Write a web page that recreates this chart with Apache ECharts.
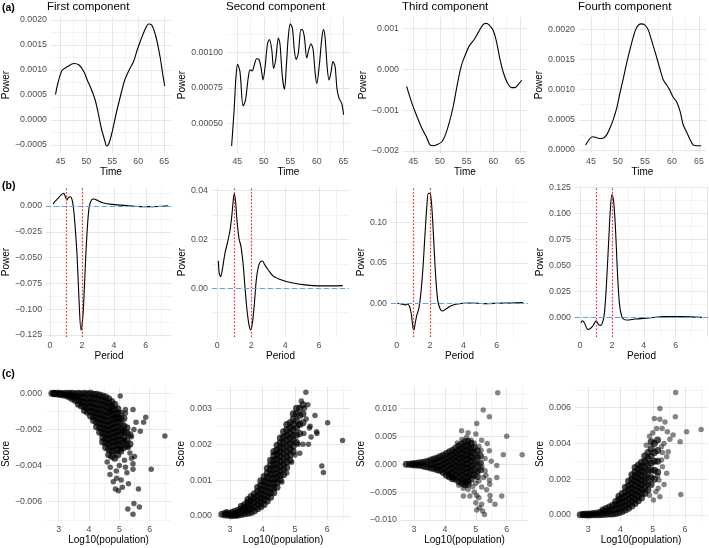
<!DOCTYPE html>
<html>
<head>
<meta charset="utf-8">
<script src="https://cdn.jsdelivr.net/npm/echarts@6/dist/echarts.min.js"></script>
<style>
html, body { margin: 0; padding: 0; background: #fff; }
#main { width: 709px; height: 548px; }
</style>
</head>
<body>
<div id="main"></div>
<script>
// ---- (a) component power over time: [time, power]
var firstTime = [[44.06,0.00051],[44.5,0.00073],[45.3,0.00099],[46.4,0.00107],[47.6,0.00113],[48.6,0.00110],[49.5,0.00097],[50.3,0.00077],[50.9,0.00063],[51.7,0.00040],[52.3,0.00013],[52.9,-0.00017],[53.6,-0.00043],[53.9,-0.00052],[54.3,-0.00048],[54.9,-0.00027],[55.75,0.00013],[56.7,0.00053],[57.4,0.00080],[58.25,0.00100],[59.1,0.00117],[59.8,0.00140],[60.6,0.00163],[61.4,0.00183],[62.0,0.00192],[62.6,0.00190],[63.4,0.00167],[64.2,0.00127],[64.7,0.00093],[65.1,0.00068]];
var secondTime = [[43.93,0.00034],[44.4,0.000594],[44.75,0.000829],[45.05,0.000915],[45.5,0.000864],[46.1,0.000622],[46.55,0.000664],[47.05,0.000817],[47.4,0.000876],[47.8,0.000869],[48.2,0.00091],[48.65,0.000955],[49.1,0.00095],[49.5,0.000887],[49.85,0.000805],[50.25,0.0009],[50.7,0.00106],[51.05,0.00109],[51.5,0.00102],[51.85,0.000887],[52.25,0.00095],[52.75,0.0011],[53.05,0.00106],[53.5,0.000829],[53.9,0.00074],[54.25,0.0009],[54.6,0.0011],[55.0,0.0012],[55.4,0.00117],[55.75,0.00102],[56.1,0.00095],[56.5,0.00099],[57.0,0.00116],[57.25,0.00116],[57.65,0.00111],[58.1,0.00096],[58.5,0.00102],[58.9,0.00106],[59.3,0.00102],[59.7,0.00085],[60.0,0.00078],[60.45,0.0009],[60.95,0.0011],[61.25,0.00116],[61.55,0.00111],[61.95,0.0009],[62.3,0.000805],[62.7,0.000864],[63.05,0.000934],[63.45,0.0009],[63.8,0.000746],[64.2,0.000676],[64.7,0.00064],[65.05,0.00056]];
var thirdTime = [[43.75,-0.00042],[44.69,-0.00081],[45.63,-0.00114],[46.56,-0.00143],[47.5,-0.00167],[48.13,-0.00185],[48.75,-0.00187],[49.5,-0.00184],[50.31,-0.00178],[50.94,-0.00163],[51.75,-0.0013],[52.5,-0.0009],[53.25,-0.00037],[54.0,0.00008],[54.69,0.00033],[55.5,0.00057],[56.38,0.00072],[57.19,0.0009],[58.0,0.00108],[58.63,0.00112],[59.25,0.00108],[60.0,0.00094],[60.63,0.00065],[61.25,0.00024],[61.88,-0.00008],[62.63,-0.00033],[63.44,-0.00045],[64.06,-0.00045],[64.69,-0.00037],[65.31,-0.00027]];
var fourthTime = [[44.0,0.000083],[44.6,0.000166],[45.25,0.00022],[45.85,0.00021],[46.5,0.00019],[47.3,0.0002],[47.9,0.00025],[48.5,0.00036],[49.1,0.0005],[49.75,0.00069],[50.35,0.00094],[51.0,0.00119],[51.6,0.00144],[52.2,0.00166],[52.85,0.00188],[53.45,0.00203],[54.25,0.00209],[55.0,0.00207],[55.6,0.00199],[56.2,0.00182],[56.95,0.0016],[57.75,0.00135],[58.4,0.00116],[59.0,0.00108],[59.6,0.00099],[60.25,0.00087],[60.85,0.0008],[61.5,0.00064],[62.1,0.00041],[62.7,0.0003],[63.35,0.00017],[63.95,0.00008],[64.6,0.00007],[65.4,0.00007]];

// ---- (b) power by period: [period, power]
var firstPeriod = [[0.2,0.0019],[0.3,0.0042],[0.5,0.0074],[0.7,0.0107],[0.86,0.0123],[0.96,0.0090],[1.06,0.0058],[1.16,0.0084],[1.26,0.0090],[1.36,0.0074],[1.46,-0.0006],[1.56,-0.0168],[1.7,-0.0491],[1.82,-0.0911],[1.94,-0.1202],[2.02,-0.1137],[2.1,-0.0975],[2.24,-0.0491],[2.36,-0.0168],[2.46,-0.0006],[2.6,0.0058],[2.74,0.0068],[3.0,0.0052],[3.3,0.0032],[3.9,0.0016],[4.9,0.0003],[5.7,-0.0006],[6.5,-0.0006],[7.2,0],[7.4,0.0003]];
var secondPeriod = [[0.06,0.0113],[0.12,0.0059],[0.2,0.0048],[0.31,0.0082],[0.45,0.0143],[0.61,0.019],[0.75,0.0238],[0.85,0.0293],[0.94,0.036],[1.0,0.0388],[1.08,0.0354],[1.16,0.0279],[1.28,0.0204],[1.4,0.017],[1.52,0.0102],[1.63,0.0007],[1.75,-0.0088],[1.87,-0.015],[1.97,-0.017],[2.07,-0.0143],[2.19,-0.0061],[2.3,0.0034],[2.42,0.0088],[2.54,0.0109],[2.66,0.0112],[2.81,0.0095],[3.01,0.0075],[3.3,0.005],[3.8,0.0034],[4.39,0.0023],[5.18,0.0014],[5.96,0.001],[6.75,0.001],[7.4,0.0011]];
var thirdPeriod = [[0.04,0],[0.2,-0.0004],[0.36,-0.0012],[0.5,-0.002],[0.65,-0.0008],[0.77,-0.004],[0.87,-0.0123],[0.97,-0.029],[1.03,-0.033],[1.11,-0.0247],[1.21,-0.0144],[1.33,-0.0062],[1.45,0.0123],[1.58,0.045],[1.7,0.086],[1.82,0.123],[1.9,0.1358],[2.02,0.135],[2.12,0.115],[2.22,0.078],[2.34,0.033],[2.46,0.004],[2.59,-0.0062],[2.73,-0.0095],[2.93,-0.0074],[3.23,-0.0033],[3.64,-0.0008],[4.44,0.0004],[5.25,-0.0004],[6.06,0],[6.87,0.0004],[7.58,0.0008]];
var fourthPeriod = [[0.06,-0.0048],[0.15,-0.0029],[0.27,-0.0048],[0.48,-0.0112],[0.63,-0.0105],[0.77,-0.0086],[0.9,-0.0054],[1.02,-0.0029],[1.15,-0.0061],[1.28,-0.0074],[1.4,-0.0054],[1.53,0.0042],[1.65,0.0297],[1.78,0.068],[1.9,0.103],[2.0,0.118],[2.1,0.113],[2.22,0.087],[2.34,0.0457],[2.47,0.0137],[2.62,0.001],[2.76,-0.0016],[2.93,-0.0022],[3.45,-0.0013],[4.29,-0.0003],[5.33,0.001],[6.38,0.001],[7.64,0.0003]];
var markedPeriods = [1, 2];

// ---- (c) score vs log10(population), score in units of 1e-3
// dense cloud as columns [log10pop, [scores...]], then the scattered points [log10pop, score]
var firstCloud = [[2.78,[0]],[2.85,[0,-0.03]],[2.95,[0,-0.04]],[3.05,[0,-0.06]],[3.15,[-0.01,-0.1]],[3.25,[0,-0.12]],[3.35,[0,-0.1,-0.2]],[3.45,[0,-0.15,-0.3]],[3.55,[-0.02,-0.2,-0.4]],[3.65,[0,-0.2,-0.4,-0.6]],[3.75,[-0.02,-0.25,-0.5,-0.7]],[3.85,[0,-0.25,-0.5,-0.75,-0.95]],[3.95,[-0.03,-0.3,-0.55,-0.8,-1.05]],[4.05,[0,-0.25,-0.5,-0.75,-1.0,-1.25]],[4.15,[-0.05,-0.3,-0.55,-0.8,-1.05,-1.3,-1.5]],[4.25,[-0.05,-0.3,-0.6,-0.85,-1.1,-1.35,-1.6,-1.85]],[4.35,[-0.1,-0.35,-0.6,-0.9,-1.15,-1.4,-1.65,-1.9,-2.15]],[4.45,[-0.15,-0.4,-0.65,-0.9,-1.2,-1.45,-1.7,-1.95,-2.2,-2.45,-2.7]],[4.55,[-0.2,-0.45,-0.7,-1.0,-1.25,-1.5,-1.75,-2.0,-2.25,-2.5,-2.75,-3.0]],[4.65,[-0.3,-0.55,-0.8,-1.05,-1.3,-1.55,-1.8,-2.05,-2.3,-2.55,-2.8,-3.1,-3.4]],[4.75,[-0.45,-0.7,-0.95,-1.2,-1.45,-1.7,-1.95,-2.2,-2.45,-2.7,-2.95,-3.2,-3.5]],[4.85,[-0.6,-0.9,-1.15,-1.4,-1.65,-1.9,-2.15,-2.4,-2.65,-2.9,-3.2,-3.6]],[4.95,[-0.85,-1.1,-1.35,-1.6,-1.85,-2.1,-2.35,-2.6,-2.85,-3.1,-3.4]],[5.05,[-1.1,-1.4,-1.7,-2.0,-2.3,-2.6,-2.9,-3.2]],[5.15,[-1.4,-1.8,-2.1,-2.4,-2.7,-3.0]],[5.25,[-1.9,-2.2,-2.6,-2.9]],[5.35,[-2.3,-2.8]]];
var firstSpread = [[5.03,-0.15],[5.2,-0.9],[5.45,-0.9],[5.87,-1.33],[5.8,-1.6],[5.69,-2.1],[5.48,-2.0],[6.5,-2.36],[6.05,-4.2],[5.63,-5.3],[5.48,-6.1],[5.66,-6.3],[5.28,-6.4],[5.45,-6.7],[5.3,-5.0],[5.1,-5.2],[4.97,-5.4],[4.87,-5.3],[5.06,-4.8],[4.8,-4.9],[4.69,-4.5],[4.91,-4.7],[5.45,-4.2],[5.4,-3.6],[5.2,-4.1],[5.17,-3.7],[5.3,-3.0],[5.06,-3.1],[5.17,-2.6],[5.1,-2.1],[5.0,-1.4],[4.86,-1.3],[5.2,-1.1],[4.7,-1.0],[4.75,-0.7],[4.6,-3.8],[4.7,-4.1],[5.35,-3.3],[5.5,-3.5],[5.0,-4.0],[4.9,-4.3],[5.25,-4.4],[5.45,-3.9],[5.55,-1.6],[5.4,-2.4]];
var secondCloud = [[2.75,[0.05]],[2.85,[0.03,0.08]],[2.95,[0.02,0.06]],[3.05,[0.01,0.05,0.1]],[3.15,[0.02,0.07,0.13]],[3.25,[0.03,0.09,0.16]],[3.35,[0.04,0.12,0.2,0.27]],[3.45,[0.06,0.15,0.24,0.32]],[3.55,[0.08,0.18,0.28,0.38,0.46]],[3.65,[0.1,0.21,0.32,0.43,0.54]],[3.75,[0.14,0.26,0.38,0.5,0.62]],[3.85,[0.2,0.32,0.44,0.56,0.68,0.8]],[3.95,[0.26,0.38,0.5,0.62,0.74,0.86,0.98]],[4.05,[0.32,0.45,0.58,0.71,0.84,0.97,1.1]],[4.15,[0.42,0.55,0.68,0.81,0.94,1.07,1.2,1.33]],[4.25,[0.52,0.65,0.78,0.91,1.04,1.17,1.3,1.43,1.55]],[4.35,[0.65,0.78,0.91,1.04,1.17,1.3,1.43,1.56,1.69,1.8]],[4.45,[0.8,0.93,1.06,1.19,1.32,1.45,1.58,1.71,1.84,1.97]],[4.55,[1.0,1.13,1.26,1.39,1.52,1.65,1.78,1.91,2.04,2.17]],[4.65,[1.15,1.3,1.45,1.6,1.75,1.9,2.05,2.2,2.35]],[4.75,[1.35,1.5,1.65,1.8,1.95,2.1,2.25,2.4,2.55]],[4.85,[1.55,1.7,1.85,2.0,2.15,2.3,2.45,2.6]],[4.95,[1.8,1.95,2.1,2.25,2.4,2.55,2.7,2.85]],[5.05,[2.05,2.25,2.45,2.65,2.85,3.0]],[5.15,[2.3,2.55,2.8,3.0]],[5.25,[2.6,2.85,3.1]]];
var secondSpread = [[5.34,3.45],[5.2,3.2],[5.4,3.1],[5.3,3.0],[5.62,2.8],[5.47,2.5],[5.5,2.2],[5.42,2.0],[5.67,2.35],[5.68,2.3],[6.01,2.6],[6.47,2.1],[5.83,1.39],[5.88,1.21],[5.15,1.75],[5.28,2.3],[5.1,2.0],[4.9,1.5],[5.0,1.7],[5.45,2.45],[5.35,2.7],[2.9,0.12],[3.2,0.0],[4.6,0.95],[4.75,1.2],[5.25,2.0],[5.12,2.55]];
var thirdCloud = [[2.75,[0]],[2.85,[0]],[2.95,[0.05,-0.1]],[3.05,[0.1,-0.15]],[3.15,[0.2,-0.2]],[3.25,[0.3,-0.25]],[3.35,[0.4,-0.4]],[3.45,[0.5,-0.5]],[3.55,[0.75,0,-0.7]],[3.65,[0.9,0.1,-0.8]],[3.75,[1.1,0.3,-0.5,-1.0]],[3.85,[1.35,0.5,-0.3,-1.15]],[3.95,[1.6,0.8,0,-0.8,-1.5]],[4.05,[1.9,1.1,0.3,-0.5,-1.3,-2.0]],[4.15,[2.2,1.4,0.6,-0.2,-1.0,-1.8,-2.3]],[4.25,[2.5,1.7,0.9,0.1,-0.7,-1.5,-2.3,-2.6]],[4.35,[2.9,2.1,1.3,0.5,-0.3,-1.1,-1.9,-2.7]],[4.45,[3.3,2.5,1.7,0.9,0.1,-0.7,-1.5,-2.3,-3.1]],[4.55,[3.6,2.8,2.0,1.2,0.4,-0.4,-1.2,-2.0,-2.8,-3.4]],[4.65,[4.0,3.2,2.4,1.6,0.8,0,-0.8,-1.6,-2.4,-3.2,-3.7]],[4.75,[4.1,3.3,2.5,1.7,0.9,0.1,-0.7,-1.5,-2.3,-3.1,-3.6]],[4.85,[3.7,2.9,2.1,1.3,0.5,-0.3,-1.1,-1.9,-2.7]],[4.95,[3.0,2.0,1.0,0,-1.0,-2.0]],[5.05,[2.4,1.2,0,-1.2,-2.2]],[5.15,[1.5,0.2,-1.0]]];
var thirdSpread = [[4.55,4.4],[4.7,4.8],[4.85,4.3],[4.6,-4.3],[4.75,-4.5],[4.9,-4.0],[4.95,3.8],[5.1,3.2],[5.1,-3.0],[5.0,-3.4],[4.45,-3.8],[4.4,3.8],[5.25,-2.4],[5.3,1.0],[5.2,-0.5],[5.71,12.8],[5.24,9.7],[5.44,8.5],[5.03,7.3],[4.54,6.0],[4.75,5.6],[5.0,5.4],[6.0,5.0],[5.19,4.3],[5.37,3.7],[5.17,2.5],[5.44,2.4],[5.89,1.7],[6.5,1.7],[5.68,-0.24],[5.68,-2.4],[5.33,-2.0],[5.44,-2.9],[5.84,-5.7],[5.46,-5.6],[5.19,-4.1],[5.03,-5.6],[4.81,-5.7],[4.6,-5.7],[5.0,-6.9],[5.19,-7.2],[5.12,-7.8],[5.03,-8.2],[5.22,-8.4],[5.28,-9.0],[5.46,-6.5],[5.62,-7.2],[5.3,-1.2],[5.5,0.5],[4.95,-5.0],[5.1,-6.0],[5.35,-4.6],[5.45,-3.6]];
var fourthCloud = [[2.75,[0.02]],[2.85,[0.01,0.04]],[2.95,[0,0.05]],[3.05,[0,0.06]],[3.15,[0.01,0.08]],[3.25,[0.01,0.1]],[3.35,[0.02,0.14]],[3.45,[0.03,0.18,0.28]],[3.55,[0.04,0.2,0.36]],[3.65,[0.05,0.25,0.45]],[3.75,[0.06,0.3,0.55]],[3.85,[0.08,0.33,0.58,0.75]],[3.95,[0.12,0.37,0.62,0.87,1.05]],[4.05,[0.2,0.45,0.7,0.95,1.2]],[4.15,[0.28,0.53,0.78,1.03,1.28,1.55]],[4.25,[0.38,0.63,0.88,1.13,1.38,1.63,1.9]],[4.35,[0.5,0.75,1.0,1.25,1.5,1.75,2.0,2.25]],[4.45,[0.65,0.9,1.15,1.4,1.65,1.9,2.15,2.4,2.65]],[4.55,[0.8,1.05,1.3,1.55,1.8,2.05,2.3,2.55,2.8]],[4.65,[0.95,1.2,1.45,1.7,1.95,2.2,2.45,2.7,2.95]],[4.75,[1.2,1.5,1.8,2.1,2.4,2.7,3.0,3.3]],[4.85,[1.4,1.75,2.1,2.45,2.8,3.15,3.5]],[4.95,[1.7,2.1,2.5,2.9,3.3,3.7,4.1]],[5.05,[2.0,2.5,3.0,3.5,4.0]],[5.15,[2.4,3.0,3.6,4.2]]];
var fourthSpread = [[5.71,6.85],[5.22,5.95],[5.7,5.5],[5.05,5.4],[5.22,5.35],[5.38,5.2],[5.12,4.84],[5.29,4.84],[5.45,4.65],[5.63,4.47],[6.05,4.65],[6.5,4.78],[5.85,4.1],[5.53,4.23],[5.27,3.82],[5.48,3.54],[5.27,3.07],[5.43,3.26],[5.43,2.33],[5.19,1.96],[5.17,1.49],[5.22,1.02],[5.87,1.15],[5.02,0.84],[5.3,2.7],[5.35,4.0],[4.9,4.4],[5.0,4.6],[4.8,3.9],[5.1,1.3],[4.9,1.1],[5.35,1.7],[5.15,2.2],[5.3,3.5]];

// ---- tick labels
var timeTicks = [45, 50, 55, 60, 65];
var periodTicks = [0, 2, 4, 6];
var popTicks = [3, 4, 5, 6];
var powerTicksA = [[-0.0005, 0, 0.0005, 0.001, 0.0015, 0.002], [0.0005, 0.00075, 0.001], [-0.002, -0.001, 0, 0.001], [0, 0.0005, 0.001, 0.0015, 0.002]];
var powerTicksB = [[-0.125, -0.1, -0.075, -0.05, -0.025, 0], [0, 0.02, 0.04], [0, 0.05, 0.1], [0, 0.025, 0.05, 0.075, 0.1, 0.125]];
var scoreTicks = [[-0.006, -0.004, -0.002, 0], [0, 0.001, 0.002, 0.003], [-0.01, -0.005, 0, 0.005, 0.01], [0, 0.002, 0.004, 0.006]];
var componentNames = ['First component', 'Second component', 'Third component', 'Fourth component'];

function toScore(list) {
    return list.map(function (p) { return [p[0], p[1] * 1e-3]; });
}
function cloudPoints(cols) {
    var pts = [];
    cols.forEach(function (c) {
        c[1].forEach(function (s) { pts.push([c[0], s * 1e-3]); });
    });
    return pts;
}

// layout: box = [left, top, right, bottom] px; cal = [v1, px1, v2, px2]
var font = '"Liberation Sans", Arial, Helvetica, sans-serif';
var panels = [
    {box: [48, 17, 171, 153], xCal: [45, 57.7, 65, 164], yCal: [0.002, 20, -0.0005, 145], xT: timeTicks, yT: powerTicksA[0], dec: 4, gap: 39, xName: 'Time', yName: 'Power', line: firstTime},
    {box: [227, 17, 350, 153], xCal: [45, 237.3, 65, 343.3], yCal: [0.001, 52.3, 0.0005, 123.3], xT: timeTicks, yT: powerTicksA[1], dec: 5, gap: 39, xName: 'Time', yName: 'Power', line: secondTime},
    {box: [403, 17, 527, 153], xCal: [45, 413.3, 65, 520], yCal: [0.001, 28.3, -0.002, 151], xT: timeTicks, yT: powerTicksA[2], dec: 3, gap: 34, xName: 'Time', yName: 'Power', line: thirdTime},
    {box: [579, 17, 706, 153], xCal: [45, 591, 65, 699], yCal: [0.002, 29.3, 0, 150], xT: timeTicks, yT: powerTicksA[3], dec: 4, gap: 31, xName: 'Time', yName: 'Power', line: fourthTime},

    {box: [41, 187, 172, 337], xCal: [1, 61.7, 2, 78.3], yCal: [0, 206, -0.125, 335], xT: periodTicks, yT: powerTicksB[0], dec: 3, gap: 31, xName: 'Period', yName: 'Power', line: firstPeriod, marks: true},
    {box: [212, 187, 349, 337], xCal: [0, 217.3, 6, 319], yCal: [0.04, 190.7, 0, 288.3], xT: periodTicks, yT: powerTicksB[1], dec: 2, gap: 23, xName: 'Period', yName: 'Power', line: secondPeriod, marks: true},
    {box: [391, 187, 528, 337], xCal: [0, 396.7, 6, 496.7], yCal: [0.1, 222.3, 0, 303.3], xT: periodTicks, yT: powerTicksB[2], dec: 2, gap: 22, xName: 'Period', yName: 'Power', line: thirdPeriod, marks: true},
    {box: [575, 187, 708, 337], xCal: [0, 580, 6, 675.7], yCal: [0.125, 187.3, 0, 317.7], xT: periodTicks, yT: powerTicksB[3], dec: 3, gap: 27, xName: 'Period', yName: 'Power', line: fourthPeriod, marks: true},

    {box: [42, 387, 171, 521], xCal: [3, 55, 6, 149], yCal: [0, 393.3, -0.006, 501.7], xT: popTicks, yT: scoreTicks[0], dec: 3, gap: 31, xName: 'Log10(population)', yName: 'Score', cloud: cloudPoints(firstCloud), spread: toScore(firstSpread), alpha: 0.78},
    {box: [216, 387, 350, 521], xCal: [3, 230, 6, 327.3], yCal: [0.003, 408.3, 0, 516], xT: popTicks, yT: scoreTicks[1], dec: 3, gap: 26, xName: 'Log10(population)', yName: 'Score', cloud: cloudPoints(secondCloud), spread: toScore(secondSpread), alpha: 0.78},
    {box: [401, 387, 528, 521], xCal: [3, 414, 6, 506.7], yCal: [0.01, 408.3, -0.01, 520], xT: popTicks, yT: scoreTicks[2], dec: 3, gap: 31, xName: 'Log10(population)', yName: 'Score', cloud: cloudPoints(thirdCloud), spread: toScore(thirdSpread), alpha: 0.6},
    {box: [575, 387, 707, 521], xCal: [3, 588.3, 6, 685], yCal: [0.006, 407.7, 0, 515], xT: popTicks, yT: scoreTicks[3], dec: 3, gap: 27, xName: 'Log10(population)', yName: 'Score', cloud: cloudPoints(fourthCloud), spread: toScore(fourthSpread), alpha: 0.6}
];

function range(cal, a, b) {
    var s = (cal[3] - cal[1]) / (cal[2] - cal[0]);
    return [cal[0] + (a - cal[1]) / s, cal[0] + (b - cal[1]) / s];
}

// major breaks plus ggplot-style minor breaks halfway between them
function breaks(major, lo, hi) {
    var step = major[1] - major[0], out = [];
    var start = major[0] - step;
    for (var i = 0; i <= 2 * (major.length + 1); i++) {
        var v = +(start + i * step / 2).toPrecision(12);
        if (v >= lo && v <= hi) out.push({v: v, major: i % 2 === 0});
    }
    return out;
}

function fmt(dec) {
    return function (v) {
        var s = Math.abs(v).toFixed(dec);
        return (v < -1e-12 ? '\u2212' : '') + s;
    };
}

function axis(ticks, lim, dec, name, gap) {
    var all = breaks(ticks, lim[0], lim[1]);
    var labels = ticks.filter(function (v) { return v >= lim[0] && v <= lim[1]; });
    return {
        type: 'value', min: lim[0], max: lim[1],
        name: name, nameLocation: 'middle', nameGap: gap,
        nameTextStyle: {color: '#000', fontSize: 10, fontFamily: font},
        axisLine: {show: false},
        axisTick: {show: false, customValues: all.map(function (t) { return t.v; })},
        axisLabel: {customValues: labels, formatter: fmt(dec), color: '#4d4d4d', fontSize: 8.8, fontFamily: font, margin: 4},
        splitLine: {show: true, lineStyle: {width: 1, color: all.map(function (t) { return t.major ? '#e6e6e6' : '#f3f3f3'; })}}
    };
}

var grids = [], xAxes = [], yAxes = [], series = [];
panels.forEach(function (p, i) {
    var b = p.box;
    grids.push({left: b[0], top: b[1], width: b[2] - b[0], height: b[3] - b[1]});
    var xa = axis(p.xT, range(p.xCal, b[0], b[2]), 0, p.xName, 14);
    var ya = axis(p.yT, range(p.yCal, b[3], b[1]), p.dec, p.yName, p.gap);
    xa.gridIndex = i;
    ya.gridIndex = i;
    xAxes.push(xa);
    yAxes.push(ya);
    if (p.line) {
        series.push({
            type: 'line', xAxisIndex: i, yAxisIndex: i, data: p.line, z: 2,
            showSymbol: false, smooth: 0.3, silent: true,
            lineStyle: {color: '#000', width: 1.1}
        });
        if (p.marks) {
            var ml = [{yAxis: 0, lineStyle: {color: '#619CFF', type: [5, 3], width: 1.2}}];
            markedPeriods.forEach(function (m) {
                ml.push({xAxis: m, lineStyle: {color: '#F02828', type: [1.5, 2], width: 1.2}});
            });
            // reference lines drawn above the curve
            series.push({
                type: 'line', xAxisIndex: i, yAxisIndex: i, data: [], z: 10, silent: true,
                markLine: {silent: true, z: 10, symbol: 'none', label: {show: false}, data: ml, animation: false}
            });
        }
    } else {
        series.push({
            type: 'scatter', xAxisIndex: i, yAxisIndex: i, data: p.cloud,
            symbolSize: 7, silent: true,
            itemStyle: {color: 'rgba(0,0,0,0.88)'}
        });
        series.push({
            type: 'scatter', xAxisIndex: i, yAxisIndex: i, data: p.spread,
            symbolSize: 5.5, silent: true,
            itemStyle: {color: 'rgba(0,0,0,' + p.alpha + ')'}
        });
    }
});

var titles = [
    {text: '(a)', left: 2, top: 3},
    {text: '(b)', left: 2, top: 181},
    {text: '(c)', left: 2, top: 369}
].map(function (t) {
    t.textStyle = {fontSize: 10.5, fontWeight: 'bold', color: '#000', fontFamily: font};
    return t;
});
componentNames.forEach(function (n, i) {
    titles.push({text: n, left: panels[i].box[0] - 1, top: 1, textStyle: {fontSize: 11.5, fontWeight: 'normal', color: '#000', fontFamily: font}});
});
titles.forEach(function (t) { t.padding = 0; });

var myChart = echarts.init(document.getElementById('main'), null, {renderer: 'canvas'});
var option = {
    backgroundColor: '#fff',
    animation: false,
    title: titles,
    grid: grids,
    xAxis: xAxes,
    yAxis: yAxes,
    series: series
};
myChart.setOption(option);
</script>
</body>
</html>
